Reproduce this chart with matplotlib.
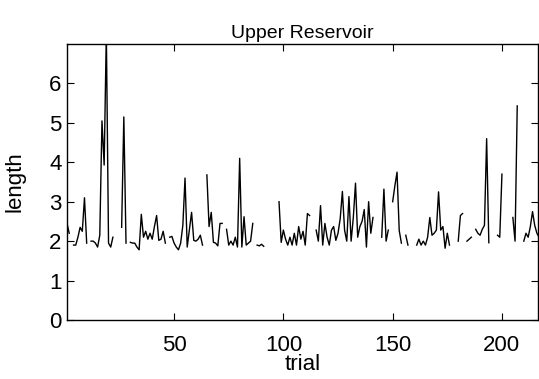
import numpy as np
import matplotlib
matplotlib.use("Agg")
import matplotlib.pyplot as plt

nan = np.nan
title = "Upper Reservoir"
x_label = "trial"
y_label = "length"
x_ticks = [50, 100, 150, 200]
y_ticks = [0, 1, 2, 3, 4, 5, 6]

length = [
    2.45, 2.2, nan, 1.9, 1.9, 2.1, 2.35, 2.25, 3.1, 1.95,            # 1-10
    nan, 2.0, 2.0, 1.95, 1.85, 2.15, 5.05, 3.93, 7.3, 1.95,          # 11-20
    1.85, 2.1, nan, nan, nan, 2.35, 5.15, 1.95, nan, 1.97,           # 21-30
    1.95, 1.95, 1.85, 1.78, 2.68, 2.1, 2.25, 2.05, 2.2, 2.05,        # 31-40
    2.37, 2.65, 2.02, 2.05, 2.25, 1.95, nan, 2.1, 2.12, 1.95,        # 41-50
    1.85, 1.78, 1.95, 2.4, 3.6, 1.85, 2.3, 2.73, 2.02, 2.0,          # 51-60
    2.05, 2.15, 1.9, nan, 3.68, 2.37, 2.73, 1.97, 1.95, 1.88,        # 61-70
    2.45, 2.45, nan, 2.3, 1.9, 2.0, 1.9, 2.1, 1.85, 4.1,             # 71-80
    1.85, 2.62, 1.9, 1.95, 2.0, 2.45, nan, 1.9, 1.88, 1.92,          # 81-90
    1.87, nan, nan, nan, nan, nan, nan, 3.0, 1.97, 2.28,             # 91-100
    2.05, 1.9, 2.1, 1.9, 2.2, 1.9, 2.37, 2.05, 2.25, 1.9,            # 101-110
    2.7, 2.65, nan, nan, 2.28, 2.0, 2.9, 1.9, 2.45, 2.1,             # 111-120
    1.9, 2.28, 2.37, 2.02, 2.2, 2.57, 3.26, 2.28, 2.0, 3.13,         # 121-130
    2.0, 2.6, 3.47, 2.1, 2.37, 2.5, 2.8, 1.85, 3.0, 2.2,             # 131-140
    2.6, nan, nan, nan, 2.1, 3.32, 2.0, 2.28, nan, 3.0,              # 141-150
    3.4, 3.75, 2.27, 1.95, nan, 2.15, 1.9, nan, nan, nan,            # 151-160
    1.9, 2.05, 1.9, 2.0, 1.9, 2.1, 2.6, 2.15, 2.2, 2.28,             # 161-170
    3.25, 2.28, 2.37, 1.82, 2.2, 1.9, nan, nan, nan, 2.0,            # 171-180
    2.65, 2.7, nan, 2.0, 2.05, 2.1, nan, 2.3, 2.2, 2.15,             # 181-190
    2.3, 2.4, 4.6, 1.96, nan, nan, nan, 2.15, 2.1, 3.7,              # 191-200
    nan, nan, nan, nan, 2.6, 2.0, 5.43, nan, nan, 2.0,               # 201-210
    2.2, 2.1, 2.37, 2.75, 2.4, 2.2, 2.1,                             # 211-217
]
trial = np.arange(1, len(length) + 1)

plt.rcParams['font.family'] = ['Liberation Sans', 'DejaVu Sans']

W, H = 539, 379
fig = plt.figure(figsize=(W / 100, H / 100), dpi=100)
ax = fig.add_axes([67 / W, 1 - 320 / H, 471 / W, 276 / H])
ax.plot(trial, length, color='black', linewidth=1.0)

ax.set_xlim(1, 216.5)
ax.set_ylim(0, 7)
ax.set_xticks(x_ticks)
ax.set_yticks(y_ticks)
ax.tick_params(direction='in', length=5, width=0.8, labelsize=16,
               top=True, right=True, colors='black')
ax.tick_params(axis='x', pad=11)
ax.tick_params(axis='y', pad=4)
for s in ax.spines.values():
    s.set_linewidth(1.0)
    s.set_color('black')

ax.set_title(title, fontsize=14, pad=4)
ax.set_xlabel(x_label, fontsize=16, labelpad=-2)
ax.set_ylabel(y_label, fontsize=16, labelpad=17)

fig.savefig("out.png", dpi=100)
